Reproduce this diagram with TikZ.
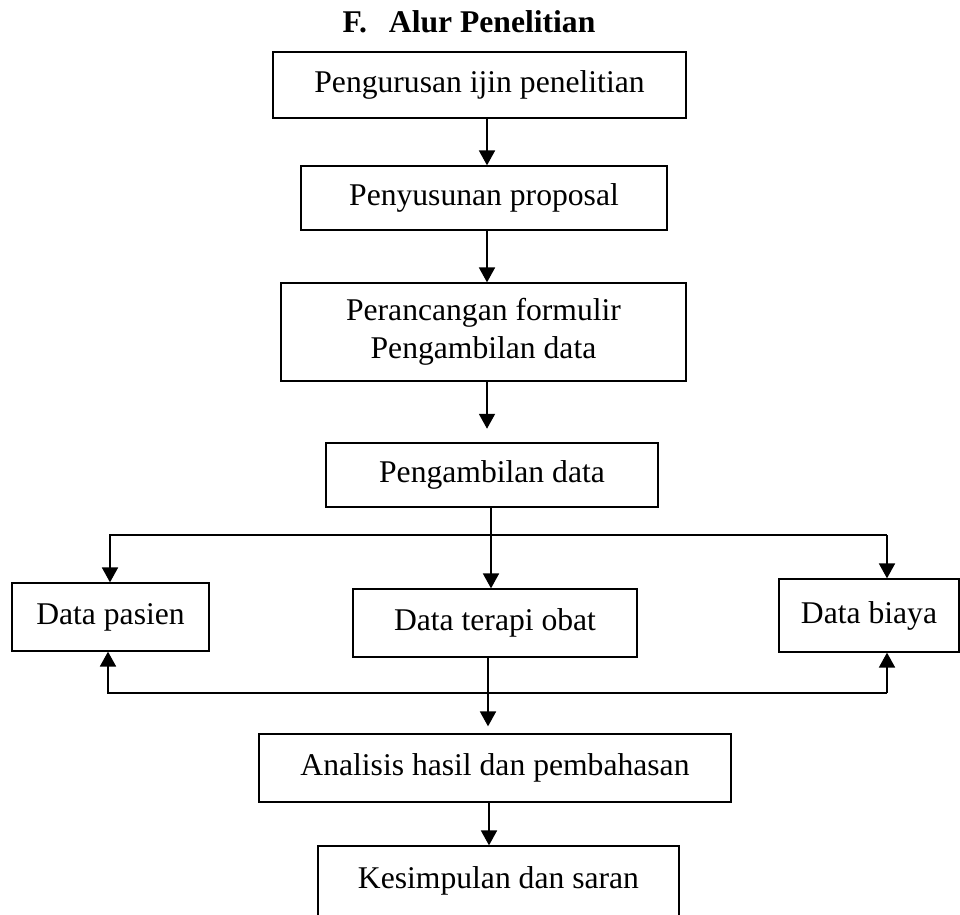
\documentclass[tikz,border=0pt]{standalone}
\usepackage{fontspec}
\setmainfont{Liberation Serif}
\usetikzlibrary{positioning,arrows.meta}
\tikzset{
  blok/.style={draw, line width=0.7pt, inner sep=0pt, align=center},
  panah/.style={line width=1.3pt, -{Triangle[length=8.5pt,width=9pt]}}
}

\begin{document}
\begin{tikzpicture}[x=0.02cm, y=-0.02cm, font=\fontsize{18}{21.6}\selectfont]
\useasboundingbox (0,0) rectangle (960,915);
\clip (0,0) rectangle (960,915);
\node[font=\fontsize{18}{21.6}\selectfont\bfseries, anchor=base] (judul) at (469,33) {F.\hspace{0.44cm}Alur Penelitian};
\node[blok, minimum width=8.26cm, minimum height=1.32cm] (ijin) at (479.5,85) {Pengurusan ijin penelitian};
\node[blok, minimum width=7.32cm, minimum height=1.28cm] (proposal) at (484,198) {Penyusunan proposal};
\node[blok, minimum width=8.10cm, minimum height=1.96cm] (formulir) at (483.5,332) {Perancangan formulir\\Pengambilan data};
\node[blok, line width=1.4pt, minimum width=6.64cm, minimum height=1.28cm] (ambil) at (492,475) {Pengambilan data};
\node[blok, minimum width=3.94cm, minimum height=1.36cm] (pasien) at (110.5,617) {Data pasien};
\node[blok, minimum width=5.68cm, minimum height=1.36cm] (terapi) at (495,623) {Data terapi obat};
\node[blok, minimum width=3.60cm, minimum height=1.46cm] (biaya) at (869,615.5) {Data biaya};
\node[blok, minimum width=9.44cm, minimum height=1.36cm] (analisis) at (495,768) {Analisis hasil dan pembahasan};
\node[blok, minimum width=7.22cm, minimum height=1.40cm] (simpul) at (498.5,881) {Kesimpulan dan saran};
\coordinate (lurus) at (487,0);
\coordinate (kiri) at (110,535);
\coordinate (kanan) at (887,535);
\coordinate (bawahkiri) at (108,693);
\coordinate (bawahkanan) at (887,693);
% alur utama
\draw[panah] (ijin.south -| lurus) -- (proposal.north -| lurus);
\draw[panah] (proposal.south -| lurus) -- (formulir.north -| lurus);
\draw[panah, shorten >=0.26cm] (formulir.south -| lurus) -- (ambil.north -| lurus);
\draw[panah] ([xshift=-0.02cm]ambil.south) -- ([xshift=-0.02cm]ambil.south |- terapi.north);
\draw[panah, shorten >=0.14cm] ([xshift=-0.14cm]terapi.south) -- ([xshift=-0.14cm]terapi.south |- analisis.north);
\draw[panah] ([xshift=-0.12cm]analisis.south) -- ([xshift=-0.12cm]analisis.south |- simpul.north);
% cabang data
\draw[panah] (kanan) -- (kiri) -- (pasien.north -| kiri);
\draw[panah] (kanan) -- (biaya.north -| kanan);
\draw[panah] (bawahkanan) -- (bawahkiri) -- (pasien.south -| bawahkiri);
\draw[panah] (bawahkanan) -- (biaya.south -| bawahkanan);
\end{tikzpicture}
\end{document}
